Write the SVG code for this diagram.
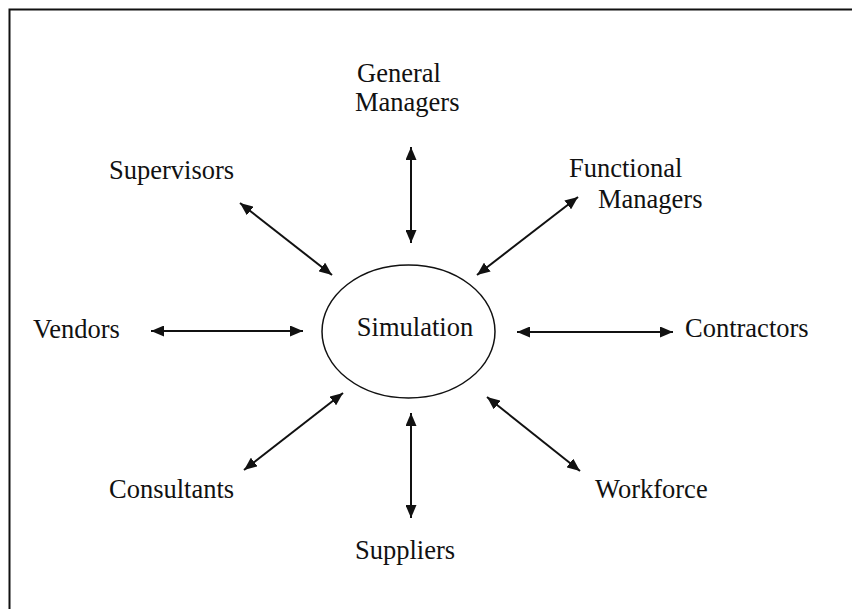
<svg xmlns="http://www.w3.org/2000/svg" width="852" height="609" viewBox="0 0 852 609">
  <style>
    .lbl { font-family: "Liberation Serif", "Times New Roman", serif; font-size: 26.5px; fill: #111; }
    .frame { stroke: #111; stroke-width: 2; fill: none; }
    .link { stroke: #111; stroke-width: 2; fill: none; marker-start: url(#tip); marker-end: url(#tip); }
  </style>
  <defs>
    <marker id="tip" viewBox="0 0 13 11" refX="13" refY="5.5" markerWidth="13" markerHeight="11" markerUnits="userSpaceOnUse" orient="auto-start-reverse">
      <path d="M0,0 L13,5.5 L0,11 Z" fill="#111"/>
    </marker>
  </defs>
  <rect width="852" height="609" fill="#fff"/>
  <!-- open frame: top and left edges only -->
  <path class="frame" d="M9.5,609 L9.5,9.5 L852,9.5"/>

  <g id="simulation">
    <ellipse cx="408.5" cy="331.5" rx="86.5" ry="66.5" fill="none" stroke="#111" stroke-width="1.5"/>
    <text class="lbl" x="415" y="336" text-anchor="middle">Simulation</text>
  </g>
  <g id="general-managers">
    <text class="lbl" x="357" y="82">General</text>
    <text class="lbl" x="355" y="111">Managers</text>
  </g>
  <g id="supervisors">
    <text class="lbl" x="109" y="179">Supervisors</text>
  </g>
  <g id="functional-managers">
    <text class="lbl" x="569" y="177">Functional</text>
    <text class="lbl" x="598" y="208">Managers</text>
  </g>
  <g id="vendors">
    <text class="lbl" x="33" y="338">Vendors</text>
  </g>
  <g id="contractors">
    <text class="lbl" x="685" y="337">Contractors</text>
  </g>
  <g id="consultants">
    <text class="lbl" x="109" y="498">Consultants</text>
  </g>
  <g id="workforce">
    <text class="lbl" x="595" y="498">Workforce</text>
  </g>
  <g id="suppliers">
    <text class="lbl" x="355" y="559">Suppliers</text>
  </g>

  <g id="connectors">
    <line class="link" x1="411" y1="147" x2="411" y2="243"/>
    <line class="link" x1="240" y1="203" x2="332" y2="275"/>
    <line class="link" x1="578" y1="197" x2="477" y2="275"/>
    <line class="link" x1="151" y1="331" x2="303" y2="331"/>
    <line class="link" x1="517" y1="332" x2="673" y2="332"/>
    <line class="link" x1="343" y1="393" x2="244" y2="470"/>
    <line class="link" x1="487" y1="397" x2="580" y2="471"/>
    <line class="link" x1="411" y1="413" x2="411" y2="518"/>
  </g>
</svg>
